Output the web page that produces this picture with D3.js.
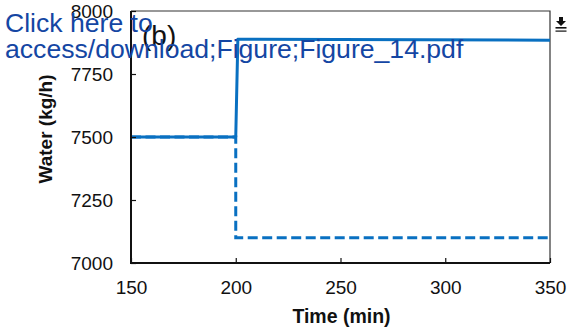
<!DOCTYPE html>
<html>
<head>
<meta charset="utf-8">
<script src="https://cdn.jsdelivr.net/npm/d3@7"></script>
<style>
  html, body { margin: 0; padding: 0; background: #fff; }
  svg { display: block; font-family: "Liberation Sans", Arial, Helvetica, sans-serif; }
</style>
</head>
<body>
<svg id="chart" width="571" height="329"></svg>
<script>
// Water flow response to a step change at t = 200 min
const timeSolid  = [150, 200, 200, 201, 350];
const waterSolid = [7500, 7500, 7500, 7888, 7884];

const timeDashed  = [150, 200, 200, 350];
const waterDashed = [7500, 7500, 7100, 7100];

const xTicks = [150, 200, 250, 300, 350];
const xMinor = [175, 225, 275, 325];
const yTicks = [7000, 7250, 7500, 7750, 8000];
const yMinor = [7050, 7100, 7150, 7200, 7300, 7350, 7400, 7450, 7550, 7600, 7650, 7700, 7800, 7850, 7900, 7950];

const svg = d3.select("#chart");
const plotLeft = 131, plotRight = 550, plotTop = 11, plotBottom = 263;

const x = d3.scaleLinear().domain([150, 350]).range([plotLeft, plotRight]);
const y = d3.scaleLinear().domain([7000, 8000]).range([plotBottom, plotTop]);

const blue = "#0970c1";

// frame: thin top and right edges
svg.append("path")
  .attr("d", `M${plotLeft},${plotTop}H${plotRight}V${plotBottom}`)
  .attr("fill", "none").attr("stroke", "#333").attr("stroke-width", 1.2);

// lines
const line = d3.line().x((d) => x(d[0])).y((d) => y(d[1]));
svg.append("path")
  .datum(d3.zip(timeSolid, waterSolid))
  .attr("d", line)
  .attr("fill", "none").attr("stroke", blue).attr("stroke-width", 3)
  .attr("stroke-linejoin", "round");
svg.append("path")
  .datum(d3.zip(timeDashed, waterDashed))
  .attr("d", line)
  .attr("fill", "none").attr("stroke", blue).attr("stroke-width", 3)
  .attr("stroke-dasharray", "10 4.5");

// x axis with inward ticks
const gx = svg.append("g").attr("transform", `translate(0,${plotBottom})`);
gx.call(d3.axisBottom(x).tickValues(xMinor).tickSize(-4).tickFormat(""));
gx.call(d3.axisBottom(x).tickValues(xTicks).tickSize(-5).tickFormat(d3.format("d")).tickPadding(18));
gx.select(".domain").remove();
gx.selectAll(".tick line").attr("stroke", "#111").attr("stroke-width", 1.2);
gx.selectAll(".tick text").attr("font-size", 19).attr("fill", "#111")
  .attr("font-family", "Liberation Sans, Arial, sans-serif");

// y axis with inward ticks
const gy = svg.append("g").attr("transform", `translate(${plotLeft},0)`);
gy.call(d3.axisLeft(y).tickValues(yMinor).tickSize(-4).tickFormat(""));
gy.call(d3.axisLeft(y).tickValues(yTicks).tickSize(-5).tickFormat(d3.format("d")).tickPadding(18));
gy.select(".domain").remove();
gy.selectAll(".tick line").attr("stroke", "#111").attr("stroke-width", 1.2);
gy.selectAll(".tick text").attr("font-size", 19).attr("fill", "#111")
  .attr("font-family", "Liberation Sans, Arial, sans-serif");

// bold axis lines on bottom and left
svg.append("path")
  .attr("d", `M${plotLeft},${plotTop}V${plotBottom}H${plotRight}`)
  .attr("fill", "none").attr("stroke", "#111").attr("stroke-width", 2);

// axis titles
svg.append("text")
  .attr("x", (plotLeft + plotRight) / 2 + 1).attr("y", 323)
  .attr("text-anchor", "middle").attr("font-size", 19.5).attr("font-weight", "bold")
  .attr("fill", "#111").text("Time (min)");
svg.append("text")
  .attr("transform", "translate(52,129) rotate(-90)")
  .attr("text-anchor", "middle").attr("font-size", 19).attr("font-weight", "bold")
  .attr("fill", "#111").text("Water (kg/h)");

// panel label
svg.append("text")
  .attr("x", 142).attr("y", 45)
  .attr("font-size", 28).attr("fill", "#111").text("(b)");

// download link overlay
const link = svg.append("text").attr("font-size", 26.6).attr("fill", "#1446a3");
link.append("tspan").attr("x", 5).attr("y", 32).text("Click here to");
link.append("tspan").attr("x", 5).attr("y", 58).text("access/download;Figure;Figure_14.pdf");

// download icon
const icon = svg.append("g").attr("transform", "translate(561,17)");
icon.append("path")
  .attr("d", "M-2,0H2V4H5L0,9L-5,4H-2Z")
  .attr("fill", "#111");
icon.append("rect").attr("x", -5.5).attr("y", 10).attr("width", 11).attr("height", 1.6).attr("fill", "#111");
icon.append("rect").attr("x", -5.5).attr("y", 13.5).attr("width", 11).attr("height", 1.2).attr("fill", "#111");
</script>
</body>
</html>
